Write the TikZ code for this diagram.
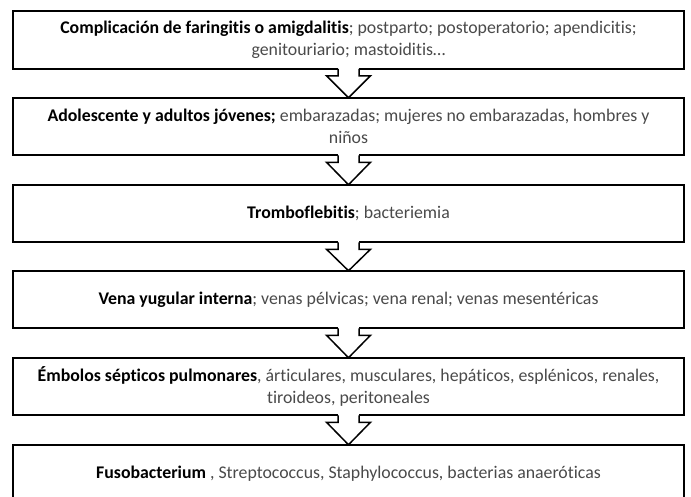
\documentclass[tikz,border=0pt]{standalone}
\usepackage{fontspec}
\setmainfont{Carlito}[Ligatures=NoCommon]
\usepackage{tikz}
\usetikzlibrary{calc}
\definecolor{txgris}{HTML}{4A4A4A}
\newcommand{\clave}[1]{\textcolor{black}{\textbf{#1}}}

\begin{document}
\begin{tikzpicture}[x=1pt, y=-1pt, font=\fontsize{17.8}{21.5}\selectfont,
      caja/.style={draw=black, line width=1.7pt, fill=white, outer sep=0pt, align=center,
                   text=txgris, minimum width=671pt, minimum height=57.5pt, inner sep=3pt},
      flecha/.style={draw=black, line width=1.5pt, fill=white, line join=miter}]
      \useasboundingbox (0,0) rectangle (691,496);
      \clip (0,0) rectangle (691,496);

      % cajas
      \node[caja] (c1) at (348.5,40) {\clave{Complicación de faringitis o amigdalitis}; postparto; postoperatorio; apendicitis;\\genitouriario; mastoiditis…};
      \node[caja] (c2) at (348.5,126.5) {\clave{Adolescente y adultos jóvenes;} embarazadas; mujeres no embarazadas, hombres y\\niños};
      \node[caja] (c3) at (348.5,213.5) {\clave{Tromboflebitis}; bacteriemia};
      \node[caja] (c4) at (348.5,299.5) {\clave{Vena yugular interna}; venas pélvicas; vena renal; venas mesentéricas};
      \node[caja] (c5) at (348.5,386.5) {\clave{Émbolos sépticos pulmonares}, árticulares, musculares, hepáticos, esplénicos, renales,\\tiroideos, peritoneales};
      \node[caja] (c6) at (348.5,473.5) {\clave{Fusobacterium} , Streptococcus, Staphylococcus, bacterias anaeróticas};

      % flechas huecas
      \foreach \a/\b in {c1/c2, c2/c3, c3/c4, c4/c5, c5/c6} {
        \fill[white] ($(\a.south)+(-10.5,-1.5)$) rectangle ($(\a.south)+(10.5,7)$);
        \draw[flecha] ($(\a.south)+(-10.5,0)$) -- ($(\a.south)+(-10.5,7)$) -- ($(\a.south)+(-22,7)$)
          -- (\b.north) -- ($(\a.south)+(22,7)$) -- ($(\a.south)+(10.5,7)$) -- ($(\a.south)+(10.5,0)$);
      }
    \end{tikzpicture}
\end{document}
